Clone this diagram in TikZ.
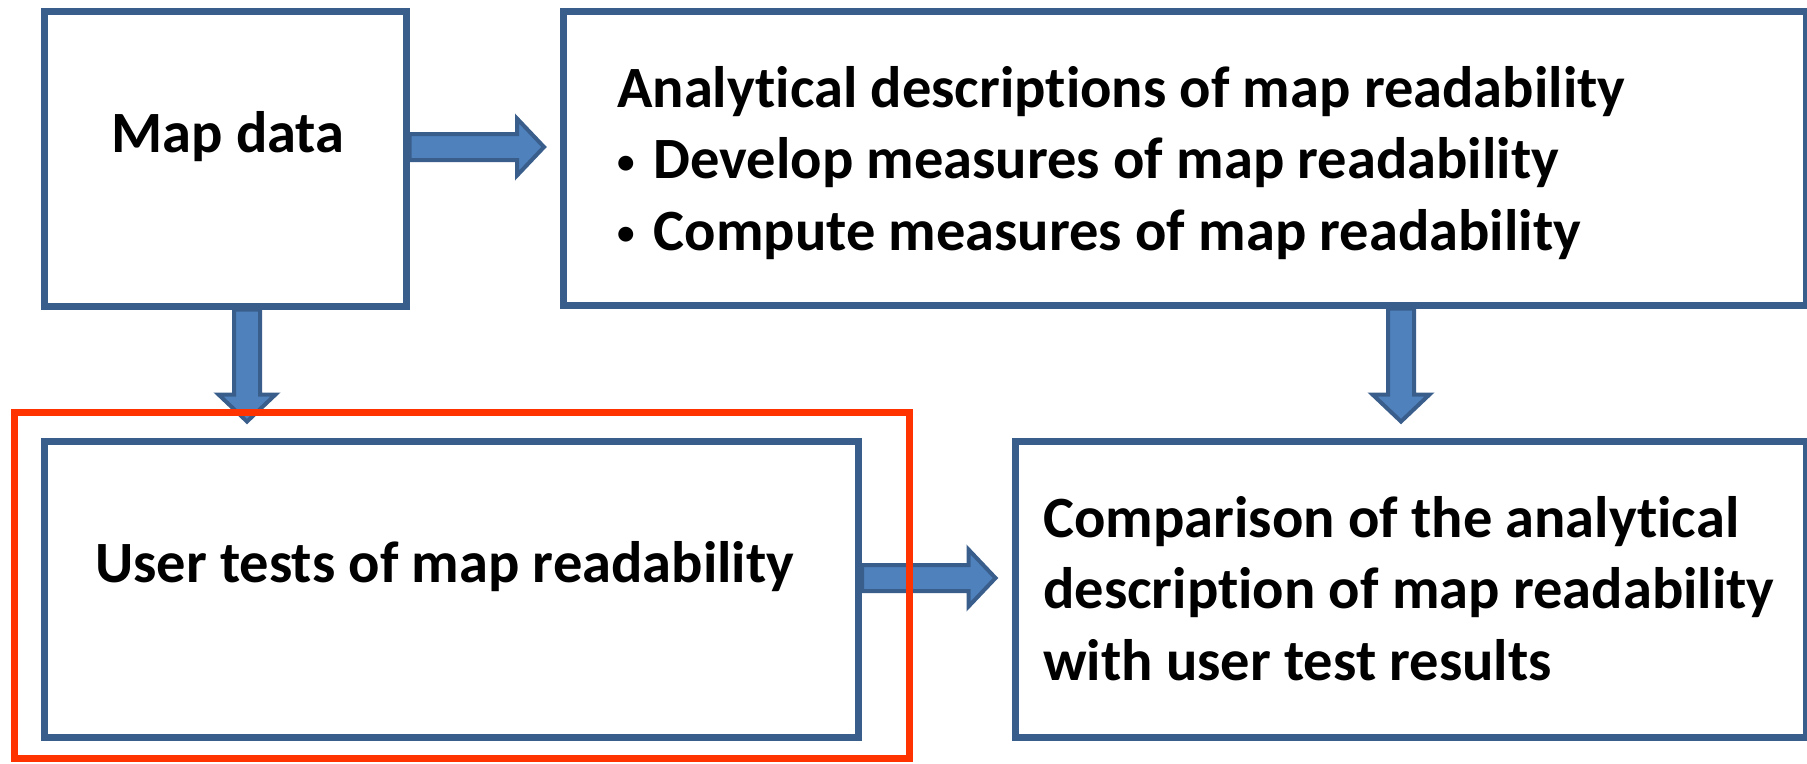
\documentclass[tikz,border=0pt]{standalone}
\usepackage{fontspec}
\setmainfont{Carlito}[Ligatures={NoCommon,NoRare,NoContextual}]
\usetikzlibrary{calc}
\definecolor{boxblue}{HTML}{3A5E8C}
\definecolor{arrowfill}{HTML}{4F81BD}
\definecolor{arrowedge}{HTML}{3A5E8C}
\definecolor{frame}{HTML}{FF3300}
\tikzset{
  panel/.style={draw=boxblue, line width=7pt, rectangle, inner sep=0pt},
  framebox/.style={draw=frame, line width=7pt, rectangle, inner sep=0pt},
  caption/.style={inner sep=0pt, font=\bfseries\fontsize{58.5}{71.5}\selectfont,
    align=left, anchor=base west, text=black},
  blockarrow/.style={fill=arrowfill, draw=arrowedge, line width=4pt, line join=miter},
}
% small list bullet followed by its gap
\newcommand\listdot{\raisebox{5.5pt}{\scalebox{0.6}{•}}\hspace{19pt}}
% block arrow pointing right, from the tail point #1 towards the target point #2
\newcommand\blockright[2]{\draw[blockarrow] let \p1=(#1), \p2=(#2) in
  (\x1,\y1+13pt) -- (\x2-43pt,\y1+13pt) -- (\x2-43pt,\y1+28.5pt) -- (\x2-16pt,\y1)
  -- (\x2-43pt,\y1-28.5pt) -- (\x2-43pt,\y1-13pt) -- (\x1,\y1-13pt) -- cycle;}
% block arrow pointing down, from the tail point #1 towards the target point #2
\newcommand\blockdown[2]{\draw[blockarrow] let \p1=(#1), \p2=(#2) in
  (\x1-13pt,\y1) -- (\x1-13pt,\y2+43pt) -- (\x1-28.5pt,\y2+43pt) -- (\x1,\y2+16pt)
  -- (\x1+28.5pt,\y2+43pt) -- (\x1+13pt,\y2+43pt) -- (\x1+13pt,\y1) -- cycle;}
\begin{document}
\begin{tikzpicture}[x=1pt,y=-1pt]
  \useasboundingbox (0,0) rectangle (1807,763);
  \fill[white] (0,0) rectangle (1807,763);

  % boxes
  \node[panel, minimum width=362pt, minimum height=295pt] (map) at (225,158.5) {};
  \node[panel, minimum width=1242.5pt, minimum height=294pt] (ana) at (1184.75,158) {};
  \node[panel, minimum width=814.5pt, minimum height=296.5pt] (user) at (451.25,589.25) {};
  \node[panel, minimum width=791pt, minimum height=296.5pt] (comp) at (1410.5,589.25) {};

  % texts (multi-line nodes are anchored at the baseline of their last line)
  \node[caption, anchor=base] (tmap) at (228,152) {Map data};
  \node[caption] (tana) at (617,250) {Analytical descriptions of map readability\\
    \listdot Develop measures of map readability\\
    \listdot Compute measures of map readability};
  \node[caption] (tuser) at (95,582) {User tests of map readability};
  \node[caption] (tcomp) at (1043,680) {Comparison of the analytical\\
    description of map readability\\
    with user test results};

  % arrow axes
  \coordinate (ax1) at (0,147);
  \coordinate (ax2) at (247,0);
  \coordinate (ax3) at (1401,0);
  \coordinate (ax4) at (0,578);

  % connectors
  \blockright{map.east |- ax1}{ana.west |- ax1}
  \blockdown{map.south -| ax2}{user.north -| ax2}
  \blockdown{ana.south -| ax3}{comp.north -| ax3}
  \blockright{user.east |- ax4}{comp.west |- ax4}

  % highlight frame around the user tests
  \node[framebox, minimum width=895pt, minimum height=346pt] (hl) at (462,585.5) {};
\end{tikzpicture}
\end{document}
